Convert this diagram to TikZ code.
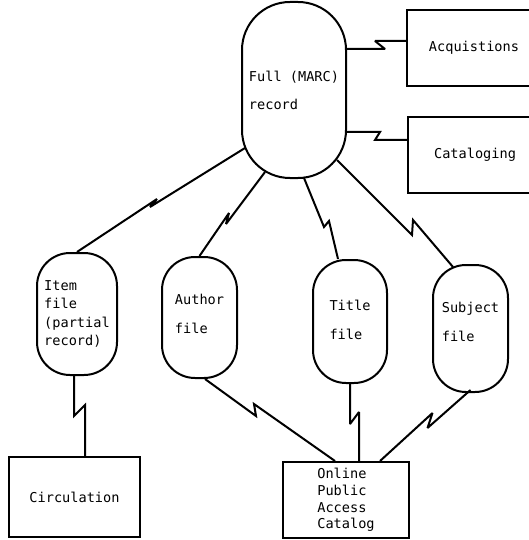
\documentclass[tikz,border=0pt]{standalone}
\usepackage{fontspec}
\setmonofont{DejaVu Sans Mono}
\usetikzlibrary{calc}
\begin{document}
\begin{tikzpicture}[x=1pt,y=-1pt,
  every node/.style={font=\fontsize{13.6}{18}\selectfont\ttfamily},
  conn/.style={draw, line width=2pt, line join=miter, miter limit=3},
  pill/.style={draw, line width=2pt, rounded corners=#1, inner sep=0pt},
  box/.style={draw, line width=2pt, inner sep=0pt}]
\useasboundingbox (0,0) rectangle (529,540);
\clip (0,0) rectangle (529,540);

% nodes
\node[pill=48pt, minimum width=104pt, minimum height=176pt, align=left,
      font=\fontsize{13.6}{28}\selectfont\ttfamily] (full) at (294,90) {Full (MARC)\\record};
\node[box, minimum width=134pt, minimum height=76pt] (acq) at (474,48) {Acquistions};
\node[box, minimum width=134pt, minimum height=76pt] (cat) at (475,155) {Cataloging};

\node[pill=33pt, minimum width=80pt, minimum height=122pt, align=left,
      font=\fontsize{13.6}{18.5}\selectfont\ttfamily] (item) at (77,314) {Item\\file\\(partial\\record)};
\node[pill=33pt, minimum width=75pt, minimum height=121pt, align=left, text depth=8pt,
      font=\fontsize{13.6}{29}\selectfont\ttfamily] (author) at (199.5,317.5) {Author\\file};
\node[pill=33pt, minimum width=74pt, minimum height=123pt, align=left, text depth=4pt,
      font=\fontsize{13.6}{29}\selectfont\ttfamily] (title) at (350,321.5) {Title\\file};
\node[pill=33pt, minimum width=75pt, minimum height=127pt, align=left, text depth=14pt,
      font=\fontsize{13.6}{29}\selectfont\ttfamily] (subject) at (470.5,328.5) {Subject\\file};

\node[box, minimum width=131pt, minimum height=80pt] (circ) at (74.5,497) {Circulation};
\node[box, minimum width=126pt, minimum height=76pt, align=left,
      font=\fontsize{13.6}{16.7}\selectfont\ttfamily] (opac) at (346,500) {Online\\Public\\Access\\Catalog};

% connectors (communication links with lightning zig)
\draw[conn] ($(full.center)+(52,-41)$) -- ++(39,0) -- ++(-10,-8) -- ($(acq.west)+(0,-7)$);
\draw[conn] ($(full.center)+(52,42)$) -- ++(34,0) -- ++(-5,8) -- ($(cat.west)+(0,-15)$);

\draw[conn] ($(full.center)+(-49,58)$) -- ++(-95,59) -- ++(7,-8) -- (item.north);
\draw[conn] ($(full.center)+(-29,82)$) -- ++(-39,52) -- ++(3,-11) -- (author.north);
\draw[conn] ($(full.center)+(10,88)$) -- ++(20,49) -- ++(5,-6) -- ($(title.north)+(-12,0)$);
\draw[conn] ($(full.center)+(43,70)$) -- ++(75,75) -- ++(1,-15) -- ($(subject.north)+(-17.5,3)$);

\draw[conn] ($(item.south)+(-3,0)$) -- ++(0,40) -- ++(11,-11) -- ($(circ.north)+(10.5,0)$);
\draw[conn] ($(author.south)+(5.5,0)$) -- ++(51,37) -- ++(-2,-12) -- ($(opac.north)+(-11,0)$);
\draw[conn] (title.south) -- ++(0,40) -- ++(9,-12) -- ($(opac.north)+(13,0)$);
\draw[conn] ($(subject.south)+(0,-3)$) -- ++(-43,38) -- ++(5,-15) -- ($(opac.north)+(34,0)$);
\end{tikzpicture}
\end{document}
